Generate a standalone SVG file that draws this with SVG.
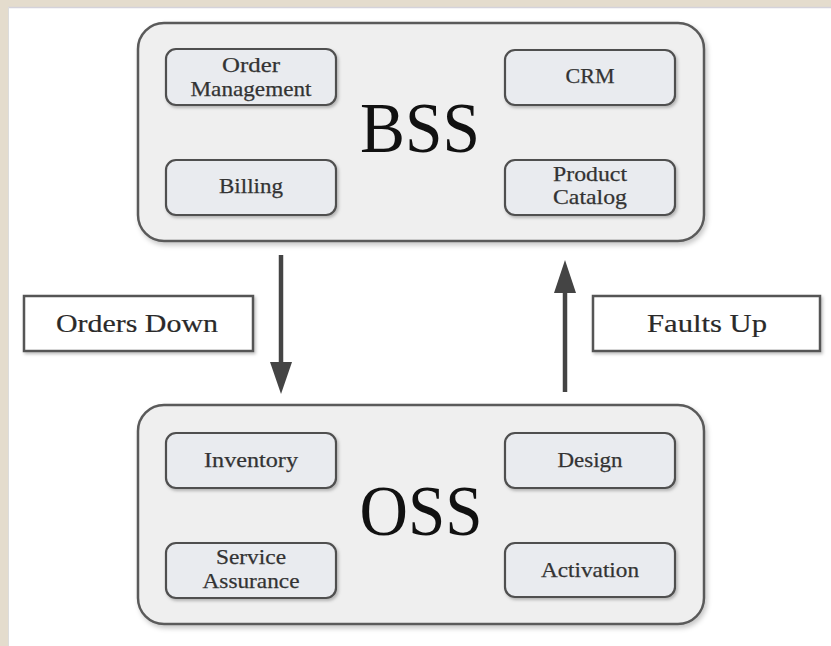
<svg xmlns="http://www.w3.org/2000/svg" width="831" height="646" viewBox="0 0 831 646">
  <defs>
    <filter id="sh" x="-10%" y="-10%" width="125%" height="130%">
      <feDropShadow dx="2" dy="3" stdDeviation="2.5" flood-color="#000" flood-opacity="0.22"/>
    </filter>
    <filter id="sh2" x="-10%" y="-10%" width="125%" height="140%">
      <feDropShadow dx="1.5" dy="2" stdDeviation="1.5" flood-color="#000" flood-opacity="0.25"/>
    </filter>
  </defs>
  <style>
    .outer { fill: #efefef; stroke: #5a5a5a; stroke-width: 2.5; filter: url(#sh); }
    .inner { fill: #e9ebef; stroke: #4f4f4f; stroke-width: 2.2; filter: url(#sh2); }
    .lbl { fill: #ffffff; stroke: #555555; stroke-width: 2.5; filter: url(#sh2); }
    .t { font-family: "Liberation Serif", "Times New Roman", serif; font-size: 22px; fill: #333333; stroke: #333333; stroke-width: 0.25; text-anchor: middle; }
    .tl { font-family: "Liberation Serif", "Times New Roman", serif; font-size: 26px; fill: #2a2a2a; stroke: #2a2a2a; stroke-width: 0.2; text-anchor: middle; }
    .big { font-family: "Liberation Serif", "Times New Roman", serif; font-size: 72px; fill: #111111; text-anchor: middle; }
    .arr { stroke: #444444; stroke-width: 4.5; fill: none; }
    .head { fill: #444444; }
  </style>

  <rect x="0" y="0" width="831" height="646" fill="#ffffff"/>
  <rect x="0" y="0" width="831" height="7" fill="#e4dccd"/>
  <rect x="0" y="0" width="8" height="646" fill="#e4dccd"/>
  <line x1="8" y1="7.5" x2="831" y2="7.5" stroke="#d4d2da" stroke-width="1.5"/>
  <line x1="8.5" y1="7" x2="8.5" y2="646" stroke="#dcdcdc" stroke-width="1"/>

  <g id="bss">
    <rect class="outer" x="138" y="23" width="566" height="218" rx="26"/>
    <text class="big" x="420" y="152" textLength="120" lengthAdjust="spacingAndGlyphs">BSS</text>
  </g>
  <g id="order-management">
    <rect class="inner" x="166" y="49" width="170" height="56" rx="10"/>
    <text class="t" x="251" y="72" textLength="58" lengthAdjust="spacingAndGlyphs">Order</text>
    <text class="t" x="251" y="96" textLength="121" lengthAdjust="spacingAndGlyphs">Management</text>
  </g>
  <g id="billing">
    <rect class="inner" x="166" y="160" width="170" height="55" rx="10"/>
    <text class="t" x="251" y="193" textLength="64" lengthAdjust="spacingAndGlyphs">Billing</text>
  </g>
  <g id="crm">
    <rect class="inner" x="505" y="50" width="170" height="55" rx="10"/>
    <text class="t" x="590" y="83" textLength="49" lengthAdjust="spacingAndGlyphs">CRM</text>
  </g>
  <g id="product-catalog">
    <rect class="inner" x="505" y="160" width="170" height="55" rx="10"/>
    <text class="t" x="590" y="181" textLength="74" lengthAdjust="spacingAndGlyphs">Product</text>
    <text class="t" x="590" y="204" textLength="74" lengthAdjust="spacingAndGlyphs">Catalog</text>
  </g>

  <g id="oss">
    <rect class="outer" x="138" y="405" width="566" height="219" rx="26"/>
    <text class="big" x="421" y="535" textLength="123" lengthAdjust="spacingAndGlyphs">OSS</text>
  </g>
  <g id="inventory">
    <rect class="inner" x="166" y="433" width="170" height="55" rx="10"/>
    <text class="t" x="251" y="467" textLength="94" lengthAdjust="spacingAndGlyphs">Inventory</text>
  </g>
  <g id="service-assurance">
    <rect class="inner" x="166" y="543" width="170" height="55" rx="10"/>
    <text class="t" x="251" y="564" textLength="70" lengthAdjust="spacingAndGlyphs">Service</text>
    <text class="t" x="251" y="588" textLength="97" lengthAdjust="spacingAndGlyphs">Assurance</text>
  </g>
  <g id="design">
    <rect class="inner" x="505" y="433" width="170" height="55" rx="10"/>
    <text class="t" x="590" y="467" textLength="65" lengthAdjust="spacingAndGlyphs">Design</text>
  </g>
  <g id="activation">
    <rect class="inner" x="505" y="543" width="170" height="54" rx="10"/>
    <text class="t" x="590" y="577" textLength="98" lengthAdjust="spacingAndGlyphs">Activation</text>
  </g>

  <g id="orders-down">
    <rect class="lbl" x="24" y="296" width="229" height="55"/>
    <text class="tl" x="137" y="332" textLength="162" lengthAdjust="spacingAndGlyphs">Orders Down</text>
  </g>
  <g id="faults-up">
    <rect class="lbl" x="593" y="296" width="227" height="55"/>
    <text class="tl" x="707" y="332" textLength="120" lengthAdjust="spacingAndGlyphs">Faults Up</text>
  </g>

  <g id="connectors">
    <line class="arr" x1="281" y1="255" x2="281" y2="365"/>
    <polygon class="head" points="270,362 292,362 281,394"/>
    <line class="arr" x1="565" y1="290" x2="565" y2="392"/>
    <polygon class="head" points="554,293 576,293 565,260"/>
  </g>
</svg>
